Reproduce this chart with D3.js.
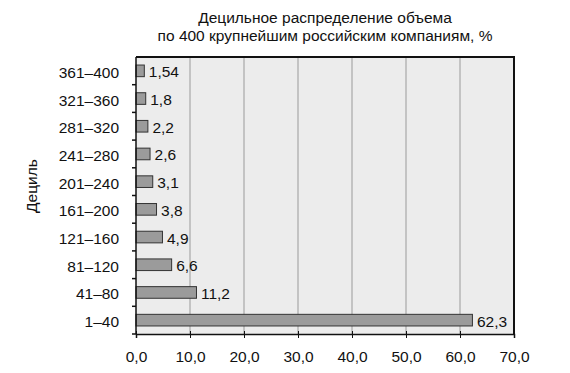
<!DOCTYPE html>
<html><head><meta charset="utf-8">
<script src="https://cdn.jsdelivr.net/npm/d3@7"></script>
<style>body{margin:0;background:#fff}text{font-family:"Liberation Sans",Arial,sans-serif}</style>
</head><body><svg id="c" width="570" height="373"></svg>
<script>
const categories = ["361–400","321–360","281–320","241–280","201–240","161–200","121–160","81–120","41–80","1–40"];
const values = [1.54,1.8,2.2,2.6,3.1,3.8,4.9,6.6,11.2,62.3];
const valueLabels = ["1,54","1,8","2,2","2,6","3,1","3,8","4,9","6,6","11,2","62,3"];
const xTicks = [0,10,20,30,40,50,60,70];
const titleLines = ["Децильное распределение объема","по 400 крупнейшим российским компаниям, %"];
const yTitle = "Дециль";

const FS = 15.5;
const svg = d3.select("#c");
const L=136, R=514, T=57, B=334;
const x = d3.scaleLinear().domain([0,70]).range([L,R]);
const y = d3.scaleBand().domain(categories).range([T,B]).paddingInner(0.58).paddingOuter(0.29);

svg.append("rect").attr("x",L).attr("y",T).attr("width",R-L).attr("height",B-T).attr("fill","#ececec");
svg.append("g").selectAll("line").data(xTicks.slice(1,-1)).join("line")
  .attr("x1",d=>x(d)).attr("x2",d=>x(d)).attr("y1",T).attr("y2",B)
  .attr("stroke","#9a9a9a").attr("stroke-width",1);

svg.append("g").selectAll("rect").data(values).join("rect")
  .attr("x",x(0)).attr("y",(d,i)=>y(categories[i]))
  .attr("width",d=>x(d)-x(0)).attr("height",y.bandwidth())
  .attr("fill","#9b9b9b").attr("stroke","#333").attr("stroke-width",1);

svg.append("g").selectAll("text").data(values).join("text")
  .attr("x",d=>x(d)+4.5).attr("y",(d,i)=>y(categories[i])+y.bandwidth()/2)
  .attr("dy","0.42em").attr("font-size",FS).attr("fill","#111")
  .text((d,i)=>valueLabels[i]);

// borders
svg.append("line").attr("x1",L).attr("x2",R+1).attr("y1",T).attr("y2",T).attr("stroke","#111").attr("stroke-width",2);
svg.append("line").attr("x1",R).attr("x2",R).attr("y1",T).attr("y2",B).attr("stroke","#111").attr("stroke-width",2);

// x axis
const xa = svg.append("g").attr("transform",`translate(0,${B})`)
  .call(d3.axisBottom(x).tickValues(xTicks).tickSize(4).tickFormat(d=>d3.format(".1f")(d).replace(".",",")));
xa.select(".domain").attr("stroke","#111").attr("stroke-width",1.5);
xa.selectAll(".tick line").attr("stroke","#111").attr("y1",-3);
xa.selectAll("text").attr("font-size",FS).attr("fill","#111").attr("y",17).attr("dy","0.71em").attr("font-family","Liberation Sans, Arial, sans-serif");

// y axis
const yBoundaries = d3.range(categories.length+1).map(i=>T+i*(B-T)/categories.length);
svg.append("line").attr("x1",L).attr("x2",L).attr("y1",T).attr("y2",B).attr("stroke","#111").attr("stroke-width",1.5);
svg.append("g").selectAll("line").data(yBoundaries.slice(1)).join("line")
  .attr("x1",L-4).attr("x2",L).attr("y1",d=>d).attr("y2",d=>d).attr("stroke","#111").attr("stroke-width",1.5);
const ya = svg.append("g").attr("transform",`translate(${L},0)`)
  .call(d3.axisLeft(y).tickSize(0).tickPadding(17));
ya.select(".domain").remove();
ya.selectAll("text").attr("font-size",FS).attr("fill","#111").attr("dy","0.45em").attr("font-family","Liberation Sans, Arial, sans-serif");

svg.append("text").attr("transform","translate(37,186) rotate(-90)").attr("text-anchor","middle")
  .attr("font-size",FS).attr("fill","#111").text(yTitle);

svg.selectAll(".title").data(titleLines).join("text").attr("class","title")
  .attr("x",325).attr("y",(d,i)=>23+i*18).attr("text-anchor","middle")
  .attr("font-size",FS).attr("fill","#111").text(d=>d);
</script></body></html>
